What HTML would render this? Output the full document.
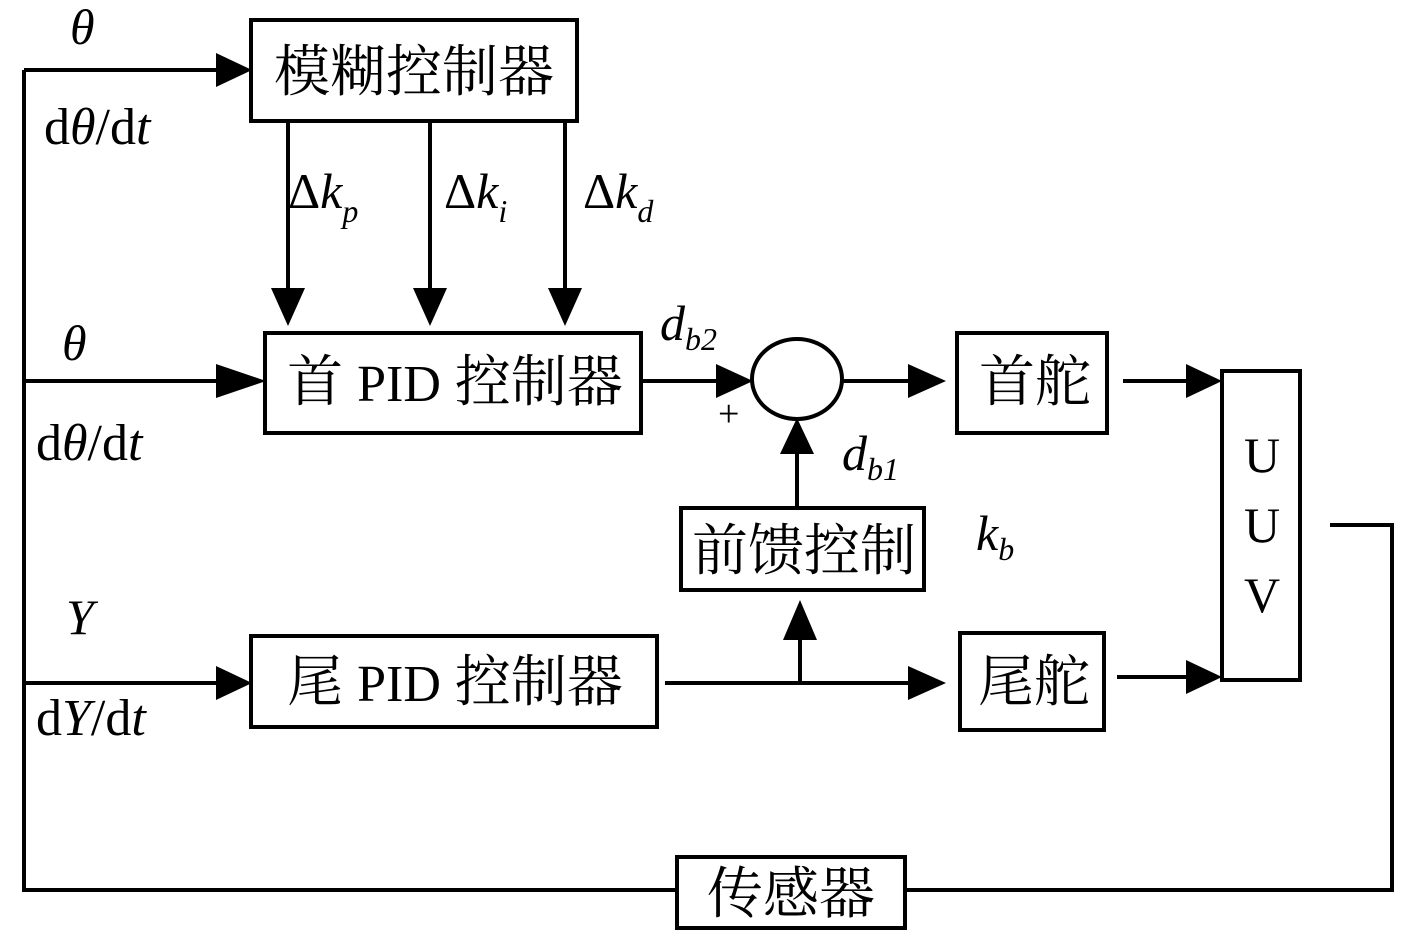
<!DOCTYPE html>
<html><head><meta charset="utf-8"><style>
html,body{margin:0;padding:0;background:#fff;}
svg{display:block;}
.cn{font-family:"Liberation Serif","Noto Serif CJK SC",serif;font-size:56px;}
.it{font-family:"Liberation Serif",serif;font-style:italic;font-size:50px;}
.rm{font-family:"Liberation Serif",serif;font-size:50px;}
</style></head><body>
<svg width="1417" height="938" viewBox="0 0 1417 938" xmlns="http://www.w3.org/2000/svg">
<g stroke="#000" stroke-width="4" fill="none">
<rect x="251" y="20" width="326" height="101"/>
<rect x="265" y="333" width="376" height="100"/>
<rect x="957" y="333" width="150" height="100"/>
<rect x="1222" y="371" width="78" height="309"/>
<rect x="681" y="508" width="243" height="82"/>
<rect x="251" y="636" width="406" height="91"/>
<rect x="960" y="633" width="144" height="97"/>
<rect x="677" y="857" width="228" height="71"/>
<ellipse cx="797" cy="379" rx="45" ry="40"/>
<polyline points="24,70 218,70"/>
<polyline points="24,70 24,890 677,890"/>
<polyline points="905,890 1392,890 1392,525 1330,525"/>
<line x1="24" y1="381" x2="218" y2="381"/>
<line x1="24" y1="683" x2="218" y2="683"/>
<line x1="288" y1="121" x2="288" y2="290"/>
<line x1="430" y1="121" x2="430" y2="290"/>
<line x1="565" y1="121" x2="565" y2="290"/>
<line x1="641" y1="381" x2="718" y2="381"/>
<line x1="842" y1="381" x2="910" y2="381"/>
<line x1="1123" y1="381" x2="1188" y2="381"/>
<line x1="797" y1="508" x2="797" y2="452"/>
<line x1="665" y1="683" x2="910" y2="683"/>
<line x1="800" y1="683" x2="800" y2="640"/>
<line x1="1117" y1="677" x2="1188" y2="677"/>
</g>
<g fill="#000">
<polygon points="252,70 216,53 216,87"/>
<polygon points="266,381 216,364 216,398"/>
<polygon points="252,683 216,666 216,700"/>
<polygon points="288,326 271,288 305,288"/>
<polygon points="430,326 413,288 447,288"/>
<polygon points="565,326 548,288 582,288"/>
<polygon points="753,381 716,364 716,398"/>
<polygon points="946,381 908,364 908,398"/>
<polygon points="1222,381 1186,364 1186,398"/>
<polygon points="1222,677 1186,660 1186,694"/>
<polygon points="946,683 908,666 908,700"/>
<polygon points="797,418 780,454 814,454"/>
<polygon points="800,600 783,640 817,640"/>
</g>
<text class="cn" x="414" y="91" text-anchor="middle">模糊控制器</text>
<text class="cn" x="455" y="401" text-anchor="middle">首 <tspan style="font-family:'Liberation Serif',serif;font-size:52px">PID</tspan> 控制器</text>
<text class="cn" x="1035" y="401" text-anchor="middle">首舵</text>
<text class="cn" x="804" y="570" text-anchor="middle">前馈控制</text>
<text class="cn" x="455" y="701" text-anchor="middle">尾 <tspan style="font-family:'Liberation Serif',serif;font-size:52px">PID</tspan> 控制器</text>
<text class="cn" x="1034" y="701" text-anchor="middle">尾舵</text>
<text class="cn" x="791" y="913" text-anchor="middle">传感器</text>
<text class="rm" x="1262" y="472" text-anchor="middle">U</text>
<text class="rm" x="1262" y="542" text-anchor="middle">U</text>
<text class="rm" x="1262" y="612" text-anchor="middle">V</text>
<text class="it" x="70" y="44">θ</text>
<text class="rm" x="44" y="144" style="font-size:52px">d<tspan class="it" style="font-size:52px">θ</tspan>/d<tspan class="it" style="font-size:52px">t</tspan></text>
<text class="it" x="62" y="360">θ</text>
<text class="rm" x="36" y="460" style="font-size:52px">d<tspan class="it" style="font-size:52px">θ</tspan>/d<tspan class="it" style="font-size:52px">t</tspan></text>
<text class="it" x="66" y="634">Y</text>
<text class="rm" x="36" y="735" style="font-size:52px">d<tspan class="it" style="font-size:52px">Y</tspan>/d<tspan class="it" style="font-size:52px">t</tspan></text>
<text class="rm" x="288" y="208">Δ<tspan class="it">k</tspan><tspan style="font-style:italic;font-size:32px" dy="14">p</tspan></text>
<text class="rm" x="444" y="208">Δ<tspan class="it">k</tspan><tspan style="font-style:italic;font-size:32px" dy="14">i</tspan></text>
<text class="rm" x="583" y="208">Δ<tspan class="it">k</tspan><tspan style="font-style:italic;font-size:32px" dy="14">d</tspan></text>
<text class="it" x="660" y="340">d<tspan style="font-size:32px" dy="10">b2</tspan></text>
<text class="it" x="842" y="470">d<tspan style="font-size:32px" dy="10">b1</tspan></text>
<text class="it" x="976" y="550">k<tspan style="font-size:32px" dy="10">b</tspan></text>
<text class="rm" x="718" y="426" style="font-size:38px">+</text>
</svg>
</body></html>
